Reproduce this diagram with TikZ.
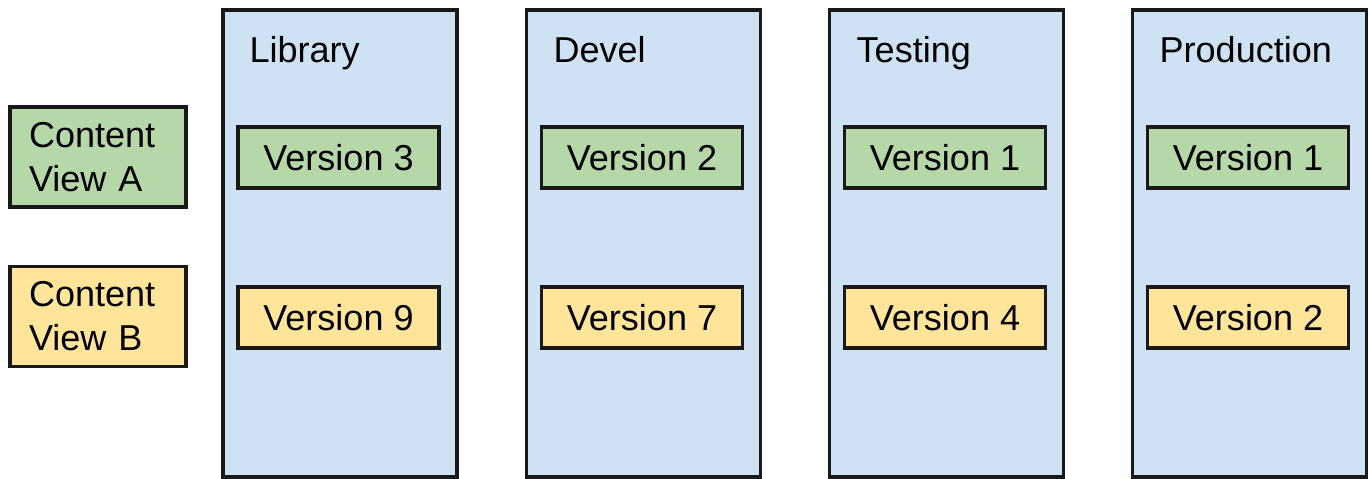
\documentclass[tikz,border=0pt]{standalone}
\usepackage{fontspec}
\setmainfont{Liberation Sans}
\usepackage{tikz}
\usetikzlibrary{positioning}

\definecolor{viewgreen}{HTML}{B6D7A8}
\definecolor{viewyellow}{HTML}{FFE599}
\definecolor{envblue}{HTML}{CFE2F3}

\begin{document}
\begin{tikzpicture}[
    x = 0.02cm,
    y = -0.02cm,
    line width = 1.9pt,
    font = \fontsize{20.5}{25}\selectfont
]

% Setup the styles for the boxes
\tikzset{
    envbox/.style={draw=black!90, fill=envblue, minimum width=4.68cm, minimum height=9.34cm, inner sep=0pt},
    envtitle/.style={anchor=base west, inner sep=0pt},
    verbox/.style={draw=black!90, minimum width=4.02cm, minimum height=1.22cm, inner sep=0pt},
    verA/.style={verbox, fill=viewgreen},
    verB/.style={verbox, fill=viewyellow},
    viewbox/.style={draw=black!90, text width=2.76cm, inner xsep=0.38cm, minimum height=2cm, align=left}
}

\useasboundingbox (0,0) rectangle (1369,479);

% Draw the content views
\node[viewbox, fill=viewgreen] (cvA) at (98,157) {Content\\View A};
\node[viewbox, fill=viewyellow] (cvB) at (98,316.5) {Content\\View B};

% Draw the environments
\node[envbox] (lib) at (340,243.5) {};
\node[envbox] (devel) at (643.5,243.5) {};
\node[envbox] (testing) at (946.5,243.5) {};
\node[envbox] (prod) at (1249.5,243.5) {};

% Draw the titles
\node[envtitle] (libT) at (248,63) {Library};
\node[envtitle] (develT) at (552,63) {Devel};
\node[envtitle] (testingT) at (855,63) {Testing};
\node[envtitle] (prodT) at (1158,63) {Production};

% Draw the versions
\node[verA] (libA) at (338.5,157.5) {Version 3};
\node[verB] (libB) at (338.5,317.5) {Version 9};
\node[verA] (develA) at (642,157.5) {Version 2};
\node[verB] (develB) at (642,317.5) {Version 7};
\node[verA] (testingA) at (945,157.5) {Version 1};
\node[verB] (testingB) at (945,317.5) {Version 4};
\node[verA] (prodA) at (1248,157.5) {Version 1};
\node[verB] (prodB) at (1248,317.5) {Version 2};

\end{tikzpicture}
\end{document}
